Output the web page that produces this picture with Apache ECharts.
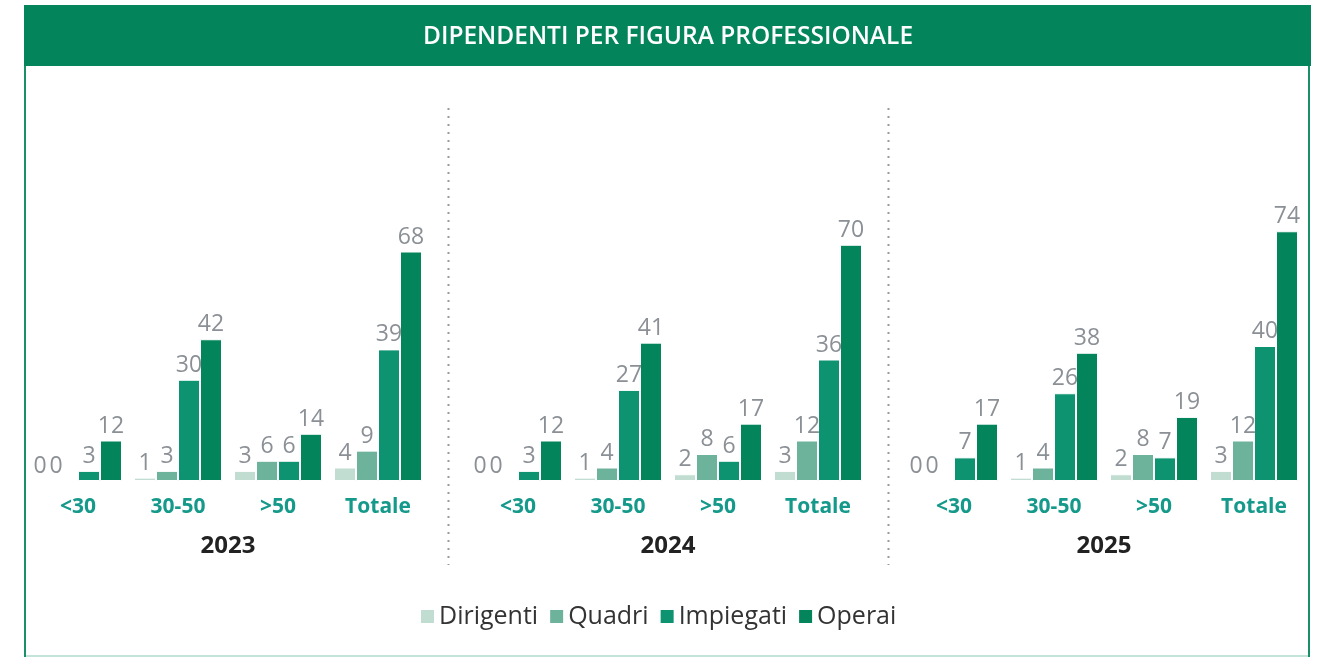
<!DOCTYPE html>
<html>
<head>
<meta charset="utf-8">
<script src="https://cdn.jsdelivr.net/npm/echarts@6/dist/echarts.min.js"></script>
<style>
  html, body { margin: 0; padding: 0; background: #ffffff; }
  #chart { width: 1319px; height: 657px; }
</style>
</head>
<body>
<div id="chart"></div>
<script>
// Employees by professional role, per age band and year
const categories = ['<30', '30-50', '>50', 'Totale'];
const years = ['2023', '2024', '2025'];
const seriesNames = ['Dirigenti', 'Quadri', 'Impiegati', 'Operai'];

const dirigenti2023 = [0, 1, 3, 4];
const quadri2023    = [0, 3, 6, 9];
const impiegati2023 = [3, 30, 6, 39];
const operai2023    = [12, 42, 14, 68];

const dirigenti2024 = [0, 1, 2, 3];
const quadri2024    = [0, 4, 8, 12];
const impiegati2024 = [3, 27, 6, 36];
const operai2024    = [12, 41, 17, 70];

const dirigenti2025 = [0, 1, 2, 3];
const quadri2025    = [0, 4, 8, 12];
const impiegati2025 = [7, 26, 7, 40];
const operai2025    = [17, 38, 19, 74];

const valuesByYear = [
  [dirigenti2023, quadri2023, impiegati2023, operai2023],
  [dirigenti2024, quadri2024, impiegati2024, operai2024],
  [dirigenti2025, quadri2025, impiegati2025, operai2025]
];

const colors = ['#c1ddd1', '#6db39c', '#0e9370', '#03845a'];
const font = '"Open Sans", "Noto Sans", sans-serif';

// zero-height bars: pull their "0" labels together, left of the group
const zeroLabelShift = [-5, -11, -5, -5];

const gridLefts = [28, 468, 904];
const gridWidth = 400;

const grids = [], xAxes = [], yAxes = [], series = [];
years.forEach((year, g) => {
  grids.push({ left: gridLefts[g], width: gridWidth, top: 211, bottom: 176 });
  xAxes.push({
    type: 'category', gridIndex: g, data: categories,
    axisLine: { show: false }, axisTick: { show: false },
    axisLabel: { color: '#14998a', fontFamily: font, fontWeight: 'bold', fontSize: 21, margin: 16 },
    name: year, nameLocation: 'middle', nameGap: 53,
    nameTextStyle: { color: '#222222', fontFamily: font, fontWeight: 'bold', fontSize: 24 }
  });
  yAxes.push({
    type: 'value', gridIndex: g, min: 0, max: 80,
    show: false, splitLine: { show: false }
  });
  seriesNames.forEach((name, s) => {
    const data = valuesByYear[g][s].map(v =>
      v === 0 ? { value: v, label: { offset: [zeroLabelShift[s], 0] } } : v);
    series.push({
      name: name, type: 'bar', xAxisIndex: g, yAxisIndex: g,
      data: data,
      barGap: '0%', barCategoryGap: '12%',
      itemStyle: { color: colors[s], borderColor: '#ffffff', borderWidth: 1 },
      label: {
        show: true, position: 'top', distance: 3,
        color: '#8b9096', fontFamily: font, fontSize: 23
      },
      emphasis: { disabled: true },
      animation: false
    });
  });
});

const chart = echarts.init(document.getElementById('chart'), null, { renderer: 'canvas' });
chart.setOption({
  backgroundColor: '#ffffff',
  color: colors,
  animation: false,
  title: {
    text: 'DIPENDENTI PER FIGURA PROFESSIONALE',
    left: 663, top: 20, textAlign: 'center',
    textStyle: { color: '#ffffff', fontFamily: font, fontWeight: 600, fontSize: 24.5 }
  },
  legend: {
    data: seriesNames,
    top: 599, left: 414,
    itemWidth: 15, itemHeight: 15, itemGap: 10,
    icon: 'rect',
    textStyle: { color: '#333333', fontFamily: font, fontSize: 25, padding: [0, 0, 0, -1] }
  },
  grid: grids,
  xAxis: xAxes,
  yAxis: yAxes,
  series: series,
  graphic: [
    { type: 'rect', z: -1, shape: { x: 24, y: 5, width: 1287, height: 61 }, style: { fill: '#03845a' } },
    { type: 'line', shape: { x1: 25, y1: 66, x2: 25, y2: 657 }, style: { stroke: '#1a9066', lineWidth: 2 } },
    { type: 'line', shape: { x1: 1309, y1: 66, x2: 1309, y2: 657 }, style: { stroke: '#1a9066', lineWidth: 2 } },
    { type: 'line', shape: { x1: 26, y1: 656, x2: 1308, y2: 656 }, style: { stroke: '#c4e4da', lineWidth: 2 } },
    { type: 'line', shape: { x1: 448.5, y1: 108, x2: 448.5, y2: 565 }, style: { stroke: '#9a9a9a', lineWidth: 2, lineDash: [2, 6] } },
    { type: 'line', shape: { x1: 888.5, y1: 108, x2: 888.5, y2: 565 }, style: { stroke: '#9a9a9a', lineWidth: 2, lineDash: [2, 6] } }
  ]
});
</script>
</body>
</html>
